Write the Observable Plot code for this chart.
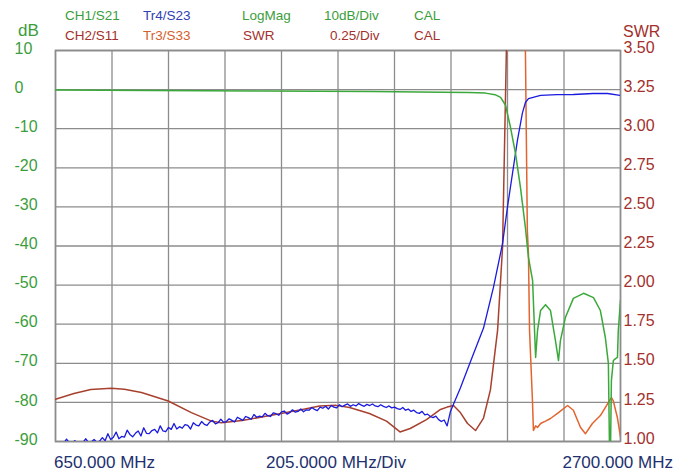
<!DOCTYPE html>
<html><head><meta charset="utf-8">
<script src="https://cdn.jsdelivr.net/npm/d3@7"></script>
<script src="https://cdn.jsdelivr.net/npm/@observablehq/plot@0.6"></script>
<style>
html,body{margin:0;padding:0;background:#fff;}
#chart{position:relative;width:676px;height:473px;}
svg text{font-family:"Liberation Sans",Arial,sans-serif;}
</style></head><body><div id="chart"></div>
<script>
// ---------- data ----------
const xTicks = [650, 855, 1060, 1265, 1470, 1675, 1880, 2085, 2290, 2495, 2700];
const dbTicks = [10, 0, -10, -20, -30, -40, -50, -60, -70, -80, -90];
const swrLabels = ["1.00","1.25","1.50","1.75","2.00","2.25","2.50","2.75","3.00","3.25","3.50"];

// CH1/S21 (dB)
const s21F  = [650, 1000, 1400, 1800, 2050, 2150, 2210, 2245, 2265, 2283, 2301, 2319, 2337, 2355, 2366, 2381, 2392, 2399, 2410, 2428, 2446, 2464, 2475, 2482, 2500, 2529, 2566, 2602, 2627, 2645, 2656, 2660, 2664, 2667, 2674, 2682, 2689, 2692, 2700];
const s21Db = [-0.1, -0.2, -0.35, -0.5, -0.65, -0.75, -0.9, -1.3, -2.0, -4.0, -9.7, -16.3, -25.0, -35.3, -42.9, -48.8, -68.5, -61.6, -56.5, -55.0, -56.5, -64.2, -69.3, -64.2, -58.3, -53.4, -52.1, -53.2, -56.5, -63.4, -70.0, -91.0, -91.0, -74.4, -69.3, -68.8, -68.5, -61.6, -53.9];

// Tr4/S23 (dB)
const s23F  = [650,660,670,680,690,700,710,720,730,740,750,760,770,780,790,800,810,820,830,840,850,860,870,880,890,900,910,920,930,940,950,960,970,980,990,1000,1010,1020,1030,1040,1050,1060,1070,1080,1090,1100,1110,1120,1130,1140,1150,1160,1170,1180,1190,1200,1210,1220,1230,1240,1250,1260,1270,1280,1290,1300,1310,1320,1330,1340,1350,1360,1370,1380,1390,1400,1410,1420,1430,1440,1450,1460,1470,1480,1490,1500,1510,1520,1530,1540,1550,1560,1570,1580,1590,1600,1610,1620,1630,1640,1650,1660,1670,1680,1690,1700,1710,1720,1730,1740,1750,1760,1770,1780,1790,1800,1810,1820,1830,1840,1850,1860,1870,1880,1890,1900,1910,1920,1930,1940,1950,1960,1970,1980,1990,2000,2010,2020,2030,2040,2050,2060,2071,2083,2094,2119,2145,2167,2203,2239,2272,2290,2308,2326,2344,2355,2366,2410,2470,2529,2600,2653,2700];
const s23Db = [-90.5,-90.4,-90.2,-90.4,-89.4,-90.3,-90.4,-89.8,-90.3,-90.4,-90.2,-89.3,-90.3,-90.1,-89.5,-90.2,-89.9,-89.0,-89.8,-88.0,-89.5,-88.9,-87.6,-89.3,-88.7,-88.9,-87.1,-88.2,-88.8,-87.9,-87.3,-88.6,-86.5,-87.9,-88.0,-87.2,-86.9,-87.8,-86.0,-87.3,-87.5,-86.4,-86.9,-85.4,-86.8,-86.2,-86.6,-85.7,-85.9,-86.8,-85.2,-85.8,-86.0,-84.9,-85.6,-85.9,-85.0,-84.6,-85.5,-85.2,-84.3,-85.1,-84.9,-84.2,-84.6,-85.0,-83.8,-84.2,-84.6,-83.6,-83.9,-84.3,-83.1,-83.8,-83.5,-83.7,-82.8,-83.4,-83.6,-82.7,-82.9,-83.3,-82.4,-82.2,-83.0,-82.6,-81.9,-82.5,-82.3,-81.7,-82.4,-81.9,-82.0,-81.3,-81.8,-82.1,-81.2,-81.5,-81.0,-81.7,-80.8,-81.2,-81.4,-80.6,-81.1,-80.7,-80.4,-81.0,-80.6,-80.9,-80.3,-80.7,-81.0,-80.5,-80.8,-80.4,-80.9,-81.1,-80.6,-81.0,-81.3,-80.9,-81.4,-81.2,-81.6,-81.8,-81.3,-82.0,-81.7,-82.3,-82.0,-82.6,-82.8,-82.3,-83.2,-83.0,-83.6,-83.9,-83.5,-84.4,-84.9,-84.5,-86.0,-82.3,-80.5,-76.3,-71.5,-67.5,-61.0,-50.6,-39.4,-30.0,-21.5,-13.0,-6.0,-3.3,-2.3,-1.5,-1.3,-1.25,-1.0,-1.0,-1.5];

// CH2/S11 (SWR)
const s11F   = [650, 717, 778, 852, 900, 962, 1059, 1143, 1216, 1252, 1327, 1448, 1546, 1608, 1668, 1717, 1789, 1851, 1900, 1937, 1996, 2047, 2071, 2094, 2119, 2145, 2174, 2203, 2228, 2254, 2272, 2286, 2295];
const s11Swr = [1.27, 1.307, 1.333, 1.34, 1.334, 1.313, 1.259, 1.185, 1.13, 1.12, 1.134, 1.173, 1.205, 1.227, 1.231, 1.217, 1.179, 1.13, 1.061, 1.083, 1.14, 1.205, 1.22, 1.23, 1.185, 1.115, 1.07, 1.15, 1.33, 1.71, 2.24, 3.5, 4.2];

// Tr3/S33 (SWR)
const s33F   = [2348, 2355, 2362, 2366, 2370, 2381, 2384, 2392, 2399, 2410, 2428, 2446, 2475, 2508, 2529, 2555, 2573, 2598, 2627, 2653, 2667, 2674, 2689, 2700];
const s33Swr = [4.2, 3.5, 2.35, 2.2, 1.71, 1.24, 1.07, 1.1, 1.09, 1.115, 1.13, 1.147, 1.185, 1.23, 1.2, 1.09, 1.05, 1.115, 1.166, 1.24, 1.28, 1.26, 1.15, 1.03];

// ---------- build ----------
const zip = (xs, ys) => xs.map((x, i) => ({f: x, v: ys[i]}));
const s21 = zip(s21F, s21Db), s23 = zip(s23F, s23Db), s11 = zip(s11F, s11Swr), s33 = zip(s33F, s33Swr);
const swrToDb = s => -90 + (s - 1) * 40;   // 0.25 SWR/div <-> 10 dB/div

const W = 676, H = 473;
const GREEN = "#3c9d3c", DRED = "#a3302c", NAVY = "#22306e";

const svg = Plot.plot({
  width: W, height: H,
  marginLeft: 55, marginRight: 56, marginTop: 50, marginBottom: 32,
  style: {fontFamily: "'Liberation Sans', Arial, sans-serif", background: "#fff", overflow: "visible"},
  x: {domain: [650, 2700], axis: null},
  y: {domain: [-90, 10], axis: null},
  marks: [
    Plot.gridX(xTicks, {stroke: "#8c8c8c", strokeOpacity: 1, strokeWidth: 1.3}),
    Plot.gridY(dbTicks, {stroke: "#8c8c8c", strokeOpacity: 1, strokeWidth: 1.3}),
    Plot.frame({stroke: "#8c8c8c", strokeWidth: 1.6}),
    Plot.axisY(dbTicks, {anchor: "left", label: null, tickSize: 0, tickPadding: 0, textAnchor: "start", dx: -41, dy: -2,
      color: GREEN, fill: GREEN, fontSize: 16, tickFormat: d => String(d)}),
    Plot.axisY(dbTicks, {anchor: "right", label: null, tickSize: 0, tickPadding: 0, textAnchor: "start", dx: 3, dy: -3,
      color: DRED, fill: DRED, fontSize: 16, tickFormat: d => swrLabels[(d + 90) / 10]}),
    Plot.line(s11, {x: "f", y: d => swrToDb(d.v), stroke: "#a8402f", strokeWidth: 1.5, clip: true}),
    Plot.line(s33, {x: "f", y: d => swrToDb(d.v), stroke: "#e2642e", strokeWidth: 1.5, clip: true}),
    Plot.line(s23, {x: "f", y: "v", stroke: "#1a1ae0", strokeWidth: 1.3, clip: true}),
    Plot.line(s21, {x: "f", y: "v", stroke: "#3aa83a", strokeWidth: 1.5, clip: true})
  ]
});
document.getElementById("chart").appendChild(svg);

// header / footer texts
const header = [
  {t: "CH1/S21", x: 65, y: 20, c: GREEN},
  {t: "Tr4/S23", x: 143, y: 20, c: "#3040b4"},
  {t: "LogMag", x: 242, y: 20, c: GREEN},
  {t: "10dB/Div", x: 324, y: 20, c: GREEN},
  {t: "CAL", x: 414, y: 20, c: GREEN},
  {t: "CH2/S11", x: 65, y: 40, c: DRED},
  {t: "Tr3/S33", x: 143, y: 40, c: "#d4602e"},
  {t: "SWR", x: 243, y: 40, c: DRED},
  {t: "0.25/Div", x: 330, y: 40, c: DRED},
  {t: "CAL", x: 414, y: 40, c: DRED}
];
const s = d3.select(svg);
s.append("g").attr("text-anchor", "start").selectAll("text").data(header).join("text")
  .attr("x", d => d.x).attr("y", d => d.y).attr("fill", d => d.c)
  .attr("font-size", 13.5).text(d => d.t);
s.append("text").attr("text-anchor", "start").attr("x", 18).attr("y", 36).attr("fill", GREEN).attr("font-size", 17).text("dB");
s.append("text").attr("text-anchor", "start").attr("x", 623).attr("y", 37).attr("fill", DRED).attr("font-size", 16).text("SWR");
const footer = [
  {t: "650.000 MHz", x: 54, a: "start"},
  {t: "205.0000 MHz/Div", x: 336, a: "middle"},
  {t: "2700.000 MHz", x: 673, a: "end"}
];
s.append("g").selectAll("text").data(footer).join("text")
  .attr("x", d => d.x).attr("y", 468).attr("text-anchor", d => d.a).attr("fill", NAVY)
  .attr("font-size", 17).text(d => d.t);
</script></body></html>
